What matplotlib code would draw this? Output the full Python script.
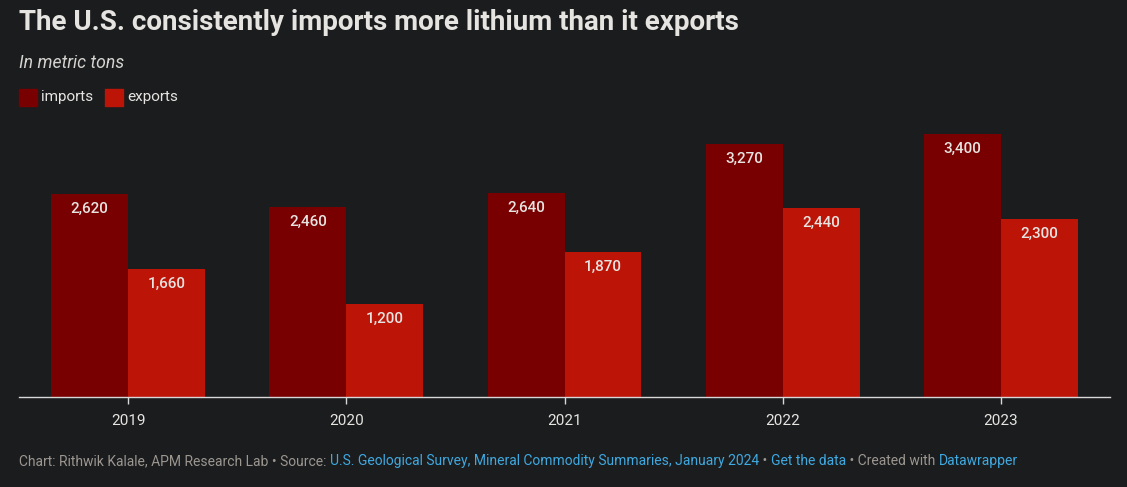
import matplotlib
matplotlib.use("Agg")
import matplotlib.pyplot as plt
import numpy as np

plt.rcParams['font.family'] = ['Roboto', 'DejaVu Sans']

# data
years = ['2019', '2020', '2021', '2022', '2023']
imports = [2620, 2460, 2640, 3270, 3400]
exports = [1660, 1200, 1870, 2440, 2300]

BG = '#1b1c1e'
IMP_COL = '#780000'
EXP_COL = '#bd1408'
TXT = '#e6e4e1'
GREY = '#9b9690'
LINK = '#3fa9e0'

W, H = 1127, 487
fig = plt.figure(figsize=(W / 100, H / 100), dpi=100, facecolor=BG)

# axes in pixel coords
left, right, bottom, top = 19, 1110, 397, 120
ax = fig.add_axes([left / W, 1 - bottom / H, (right - left) / W, (bottom - top) / H])
ax.set_facecolor(BG)

x = np.arange(len(years))
bw = 77 / 218.5
b1 = ax.bar(x - bw / 2, imports, bw, color=IMP_COL, linewidth=0)
b2 = ax.bar(x + bw / 2, exports, bw, color=EXP_COL, linewidth=0)

px_per_unit = 263 / 3400
ax.set_ylim(0, (bottom - top) / px_per_unit)
ax.set_xlim(-0.5, len(years) - 0.5)

for bars, vals in ((b1, imports), (b2, exports)):
    for r, v in zip(bars, vals):
        ax.annotate(f"{v:,}", (r.get_x() + r.get_width() / 2, v),
                    xytext=(0, -15 * 0.72), textcoords='offset points',
                    ha='center', va='center', color=TXT, fontsize=11,
                    fontweight='medium')

for s in ('top', 'right', 'left'):
    ax.spines[s].set_visible(False)
ax.spines['bottom'].set_color('#d8d8d8')
ax.spines['bottom'].set_linewidth(1)
ax.set_yticks([])
ax.set_xticks(x)
ax.set_xticklabels(years)
ax.tick_params(axis='x', colors='#d8d8d8', length=5, width=1, pad=7,
               labelsize=11, labelcolor=TXT)


def fy(py):
    return 1 - py / H


# title and subtitle
fig.text(left / W, fy(22), "The U.S. consistently imports more lithium than it exports",
         color=TXT, fontsize=20, fontweight='bold', va='center', ha='left')
fig.text(left / W, fy(63), "In metric tons", color='#d6d4d0', fontsize=12.7,
         style='italic', va='center', ha='left')

# legend
for xs, col, lab in ((19, IMP_COL, 'imports'), (105, EXP_COL, 'exports')):
    fig.patches.append(plt.Rectangle((xs / W, fy(106)), 18 / W, 17 / H,
                                     transform=fig.transFigure, color=col))
    fig.text((xs + 22) / W, fy(97), lab, color=TXT, fontsize=11,
             va='center', ha='left')

# footer with mixed colours
parts = [
    ("Chart: Rithwik Kalale, APM Research Lab \u2022 Source: ", GREY),
    ("U.S. Geological Survey, Mineral Commodity Summaries, January 2024", LINK),
    (" \u2022 ", GREY),
    ("Get the data", LINK),
    (" \u2022 Created with ", GREY),
    ("Datawrapper", LINK),
]
renderer = fig.canvas.get_renderer()
xpos = left
for txt, col in parts:
    t = fig.text(xpos / W, fy(461), txt, color=col, fontsize=10, va='center', ha='left')
    bb = t.get_window_extent(renderer=renderer)
    xpos += bb.width

fig.savefig('out.png', dpi=100, facecolor=BG)
